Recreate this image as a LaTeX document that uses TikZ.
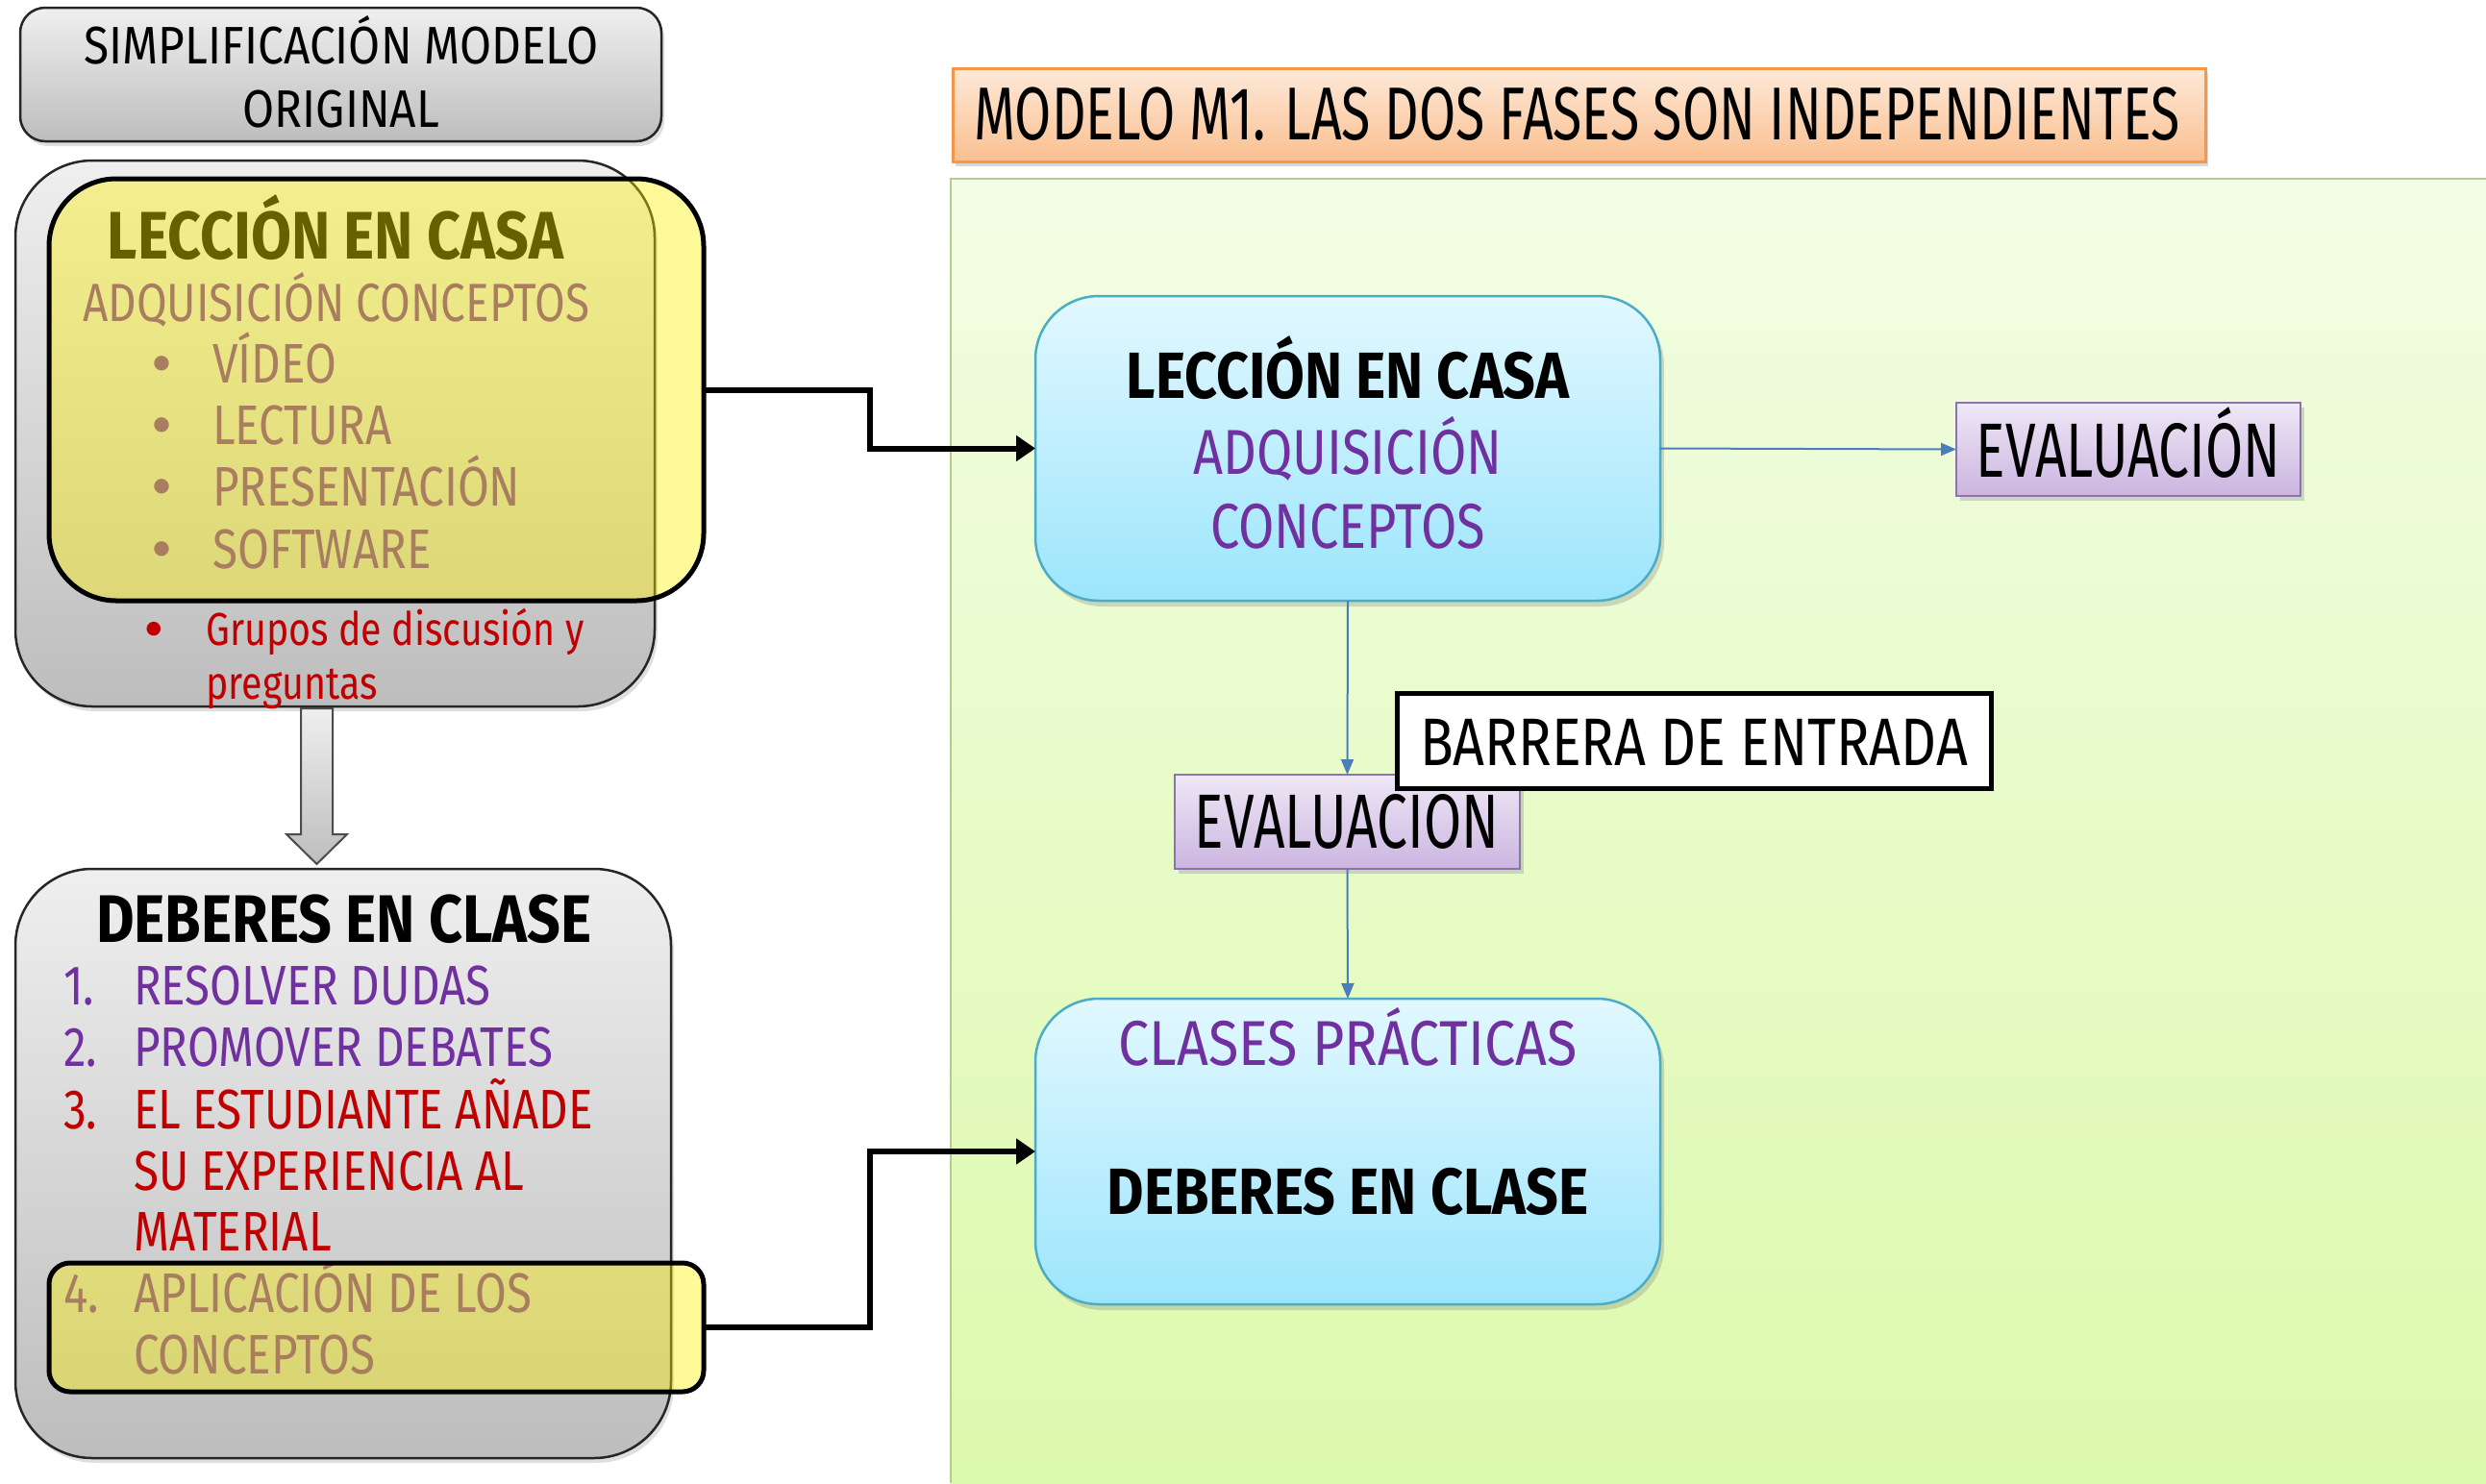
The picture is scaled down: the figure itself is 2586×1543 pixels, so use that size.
\documentclass[tikz,border=0pt]{standalone}
\usepackage{fontspec}
\setmainfont{Fira Sans}[FakeStretch=0.82]
\newfontfamily\widef{Fira Sans}[FakeStretch=0.87]
\newfontfamily\narrowf{Fira Sans}[FakeStretch=0.71]
\newfontfamily\symf{DejaVu Sans}
\usetikzlibrary{arrows.meta,fit,shadows}
\newcommand\fsz[1]{\fontsize{#1}{#1}\selectfont}
\definecolor{grayTop}{HTML}{EFEFEF}
\definecolor{grayBot}{HTML}{BDBDBD}
\definecolor{purp}{HTML}{7030A0}
\definecolor{redd}{HTML}{C00000}
\definecolor{blueTop}{HTML}{E2F8FF}
\definecolor{blueBot}{HTML}{9CE5FC}
\definecolor{blueBorder}{HTML}{4BACC6}
\definecolor{evalTop}{HTML}{EEE8F6}
\definecolor{evalBot}{HTML}{CBB5E0}
\definecolor{evalBorder}{HTML}{8D72B0}
\definecolor{orTop}{HTML}{FDE9D9}
\definecolor{orBot}{HTML}{FABF8F}
\definecolor{orBorder}{HTML}{F79646}
\definecolor{grTop}{HTML}{F2FDE4}
\definecolor{grBot}{HTML}{DDF9AC}
\definecolor{grBorder}{HTML}{B5CC8E}
\definecolor{conn}{HTML}{4A7EBB}
\begin{document}
\begin{tikzpicture}[x=1pt,y=-1pt,
  shp/.style={inner sep=0pt, outer sep=0pt},
  graybox/.style={shp, draw=black!85, line width=2.5pt, top color=grayTop, bottom color=grayBot,
     drop shadow={opacity=0.25, shadow xshift=3pt, shadow yshift=-5pt}},
  ybox/.style={shp, draw=black, line width=5pt, fill=yellow, fill opacity=0.4},
  bluebox/.style={shp, rounded corners=66pt, draw=blueBorder, line width=2.5pt, top color=blueTop, bottom color=blueBot,
     drop shadow={opacity=0.3, shadow xshift=4pt, shadow yshift=-6pt}},
  evalbox/.style={shp, draw=evalBorder, line width=2.5pt, top color=evalTop, bottom color=evalBot,
     drop shadow={opacity=0.3, shadow xshift=4pt, shadow yshift=-5pt}},
  txt/.style={inner sep=0pt, anchor=base west},
  ctxt/.style={inner sep=0pt, anchor=base},
  bullet/.style={inner sep=0pt, anchor=center},
  thick conn/.style={line width=6pt, -{Triangle[length=20pt,width=26pt]}},
  thin conn/.style={draw=conn, line width=2pt, -{Triangle[length=16pt,width=13pt]}}
]
\useasboundingbox (0,0) rectangle (2586,1543);

% green panel
\shade[top color=grTop, bottom color=grBot] (989,186) rectangle (2586,1543);
\draw[grBorder, line width=2.5pt] (989,1543) -- (989,186) -- (2586,186);

% title box
\node[shp, fit={(991,71) (2294,168)}, draw=orBorder, line width=3pt, top color=orTop, bottom color=orBot,
   drop shadow={opacity=0.3, shadow xshift=3pt, shadow yshift=-5pt}] (title) {};
\node[txt] (titletext) at (1013,145) {\narrowf\fsz{78}MODELO M1. LAS DOS FASES SON INDEPENDIENTES};

% top gray box
\node[graybox, rounded corners=26pt, fit={(21,8) (688,147)}] (simp) {};
\node[ctxt] (simp1) at (355,66) {\widef\fsz{55}SIMPLIFICACIÓN MODELO};
\node[ctxt] (simp2) at (355,132) {\widef\fsz{55}ORIGINAL};

% gray box 1
\node[graybox, rounded corners=80pt, fit={(16,167) (681,735)}] (g1) {};
\node[ctxt] (l1) at (349,269) {\widef\fsz{70}\bfseries LECCIÓN EN CASA};
\node[txt, text=purp] (l2) at (86,334) {\fsz{56}ADQUISICIÓN CONCEPTOS};
\foreach \yy/\tt/\nm in {398/VÍDEO/a, 462/LECTURA/b, 526/PRESENTACIÓN/c, 591/SOFTWARE/d}{
  \node[bullet, text=purp] (bul\nm) at (168,\yy-20) {\symf\fsz{20}●};
  \node[txt, text=purp] (it\nm) at (221,\yy) {\fsz{58}\tt};
}
\node[bullet, text=redd] (bulg) at (160,655) {\symf\fsz{19}●};
\node[txt, text=redd] (gr1) at (214,671) {\fsz{48}Grupos de discusión y};
\node[txt, text=redd] (gr2) at (214,727) {\fsz{48}preguntas};

% block arrow down
\draw[draw=black!70, line width=2pt, top color=grayTop, bottom color=grayBot]
  (313,737) -- (346,737) -- (346,868) -- (361,868) -- (329.5,899) -- (298,868) -- (313,868) -- cycle;

% gray box 2
\node[graybox, rounded corners=80pt, fit={(16,904) (698,1517)}] (g2) {};
\node[ctxt] (d0) at (358,980) {\widef\fsz{70}\bfseries DEBERES EN CLASE};
\node[txt, text=purp] (n1) at (66,1045) {\fsz{58}1.};
\node[txt, text=purp] (t1) at (139,1045) {\fsz{58}RESOLVER DUDAS};
\node[txt, text=purp] (n2) at (66,1109) {\fsz{58}2.};
\node[txt, text=purp] (t2) at (139,1109) {\fsz{58}PROMOVER DEBATES};
\node[txt, text=redd] (n3) at (66,1174) {\fsz{58}3.};
\node[txt, text=redd] (t3a) at (139,1174) {\fsz{58}EL ESTUDIANTE AÑADE};
\node[txt, text=redd] (t3b) at (139,1238) {\fsz{58}SU EXPERIENCIA AL};
\node[txt, text=redd] (t3c) at (139,1301) {\fsz{58}MATERIAL};
\node[txt, text=purp] (n4) at (66,1365) {\fsz{58}4.};
\node[txt, text=purp] (t4a) at (139,1365) {\fsz{58}APLICACIÓN DE LOS};
\node[txt, text=purp] (t4b) at (139,1429) {\fsz{58}CONCEPTOS};

% yellow overlays
\node[ybox, rounded corners=70pt, fit={(51,186) (732,625)}] (y1) {};
\node[ybox, rounded corners=22pt, fit={(51,1314) (732,1448)}] (y2) {};

% right side boxes
\node[bluebox, fit={(1077,308) (1727,625)}] (b1) {};
\node[ctxt] (b1a) at (1402,414) {\widef\fsz{68}\bfseries LECCIÓN EN CASA};
\node[ctxt, text=purp] (b1b) at (1402,493) {\fsz{66}ADQUISICIÓN};
\node[ctxt, text=purp] (b1c) at (1402,570) {\fsz{66}CONCEPTOS};

\node[bluebox, fit={(1077,1039) (1727,1357)}] (b2) {};
\node[ctxt, text=purp] (b2a) at (1402,1108) {\widef\fsz{66}CLASES PRÁCTICAS};
\node[ctxt] (b2b) at (1402,1263) {\widef\fsz{68}\bfseries DEBERES EN CLASE};

\node[evalbox, fit={(2035,419) (2393,516)}] (evR) {};
\node[ctxt] (evRt) at (2214,496) {\narrowf\fsz{80}EVALUACIÓN};

\node[evalbox, fit={(1222,806) (1581,904)}] (evM) {};
\node[ctxt] (evMt) at (1401,882) {\narrowf\fsz{80}EVALUACIÓN};

% thin connectors
\draw[thin conn] (b1.east) -- (evR.west);
\draw[thin conn] (b1.south) -- (evM.north);
\draw[thin conn] (evM.south) -- (b2.north);

% barrera
\node[shp, fit={(1453,721) (2071,820)}, draw=black, line width=5pt, fill=white] (bar) {};
\node[ctxt] (bart) at (1762,796) {\fsz{70}BARRERA DE ENTRADA};

% thick connectors
\draw[thick conn] (y1.east) -- ++(173,0) |- (b1.west);
\draw[thick conn] (y2.east) -- ++(173,0) |- (b2.west);
\end{tikzpicture}
\end{document}
